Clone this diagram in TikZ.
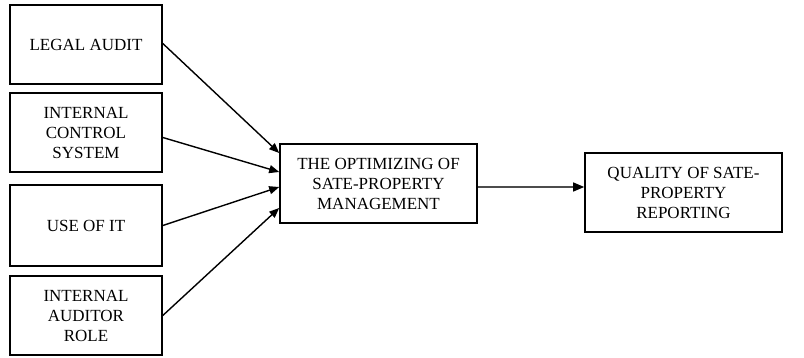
\documentclass[tikz,border=0pt]{standalone}
\usepackage{fontspec}
\setmainfont{Liberation Serif}
\usetikzlibrary{arrows.meta,calc}
\tikzset{
  box/.style={draw=black, line width=1.6pt, align=center, inner sep=2pt,
    font=\fontsize{17}{20}\selectfont, minimum width=152pt, minimum height=79pt},
  bigbox/.style={box, minimum width=197pt},
  arr/.style={line width=1.4pt, -{Triangle[length=10pt,width=8pt]}},
  thinarr/.style={line width=1.2pt, draw=black!70, -{Triangle[length=11pt,width=9pt,color=black]}}
}
\begin{document}
\begin{tikzpicture}[x=1pt,y=-1pt]
\useasboundingbox (0,0) rectangle (804,358);
\node[box] (b1) at (86,44.5) {LEGAL AUDIT};
\node[box] (b2) at (86,132.5) {INTERNAL\\CONTROL\\SYSTEM};
\node[box, minimum height=81pt] (b3) at (86,225.5) {USE OF IT};
\node[box] (b4) at (86,315.5) {INTERNAL\\AUDITOR\\ROLE};
\node[bigbox] (m) at (378.5,183.5) {THE OPTIMIZING OF\\SATE-PROPERTY\\MANAGEMENT};
\node[bigbox] (r) at (683.5,192.5) {QUALITY OF SATE-\\PROPERTY\\REPORTING};
\coordinate (t1) at ([yshift=30.5pt]m.west);
\coordinate (t2) at ([yshift=11.5pt]m.west);
\coordinate (t3) at ([yshift=-3.5pt]m.west);
\coordinate (t4) at ([yshift=-24.5pt]m.west);
\draw[arr] ([yshift=1pt]b1.east) -- (t1);
\draw[arr] ([yshift=-5pt]b2.east) -- (t2);
\draw[arr] (b3.east) -- (t3);
\draw[arr] (b4.east) -- (t4);
\coordinate (ms) at ([yshift=-3.5pt]m.east);
\draw[thinarr] (ms) -- (ms -| r.west);
\end{tikzpicture}
\end{document}
